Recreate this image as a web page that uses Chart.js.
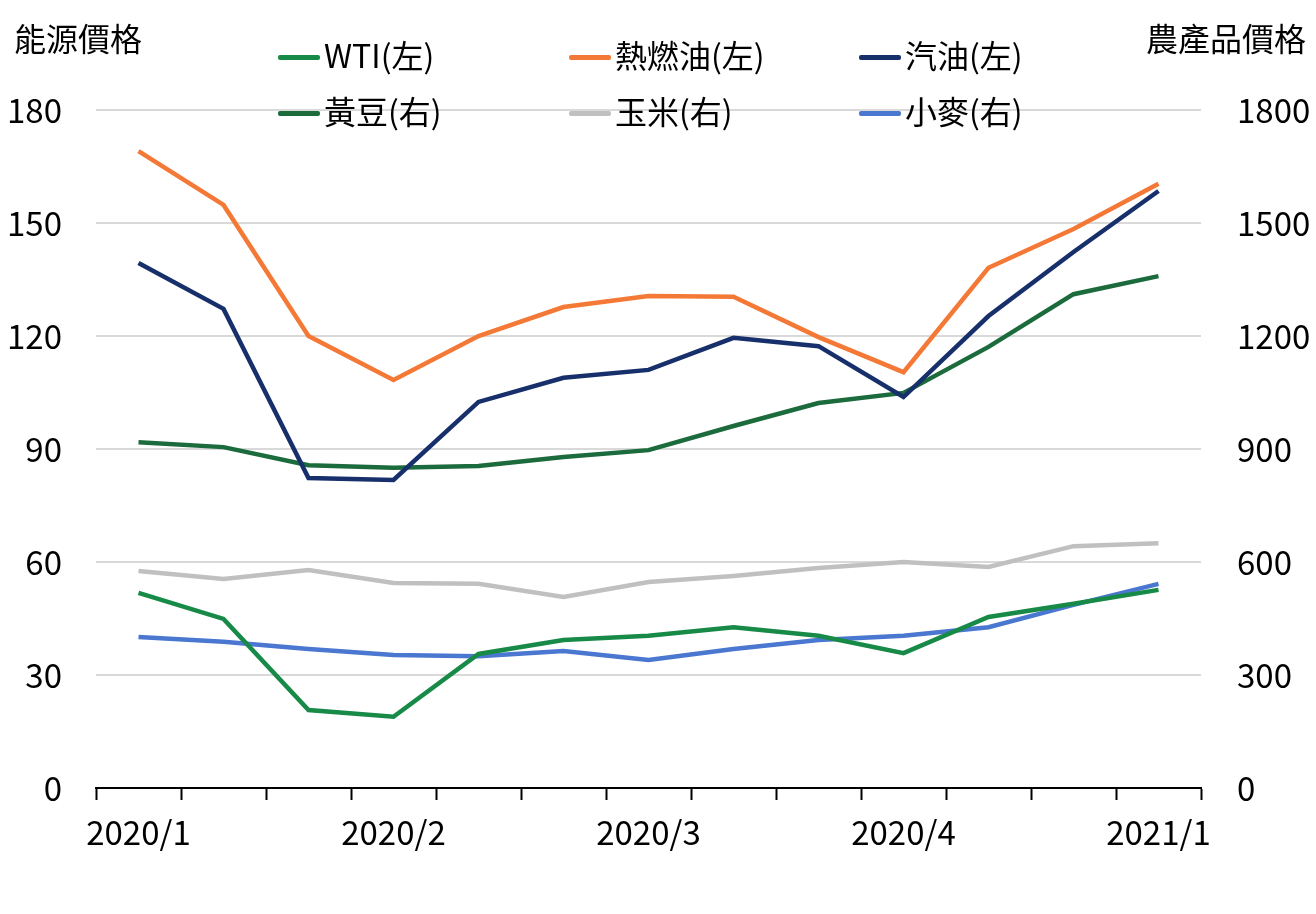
<!DOCTYPE html>
<html>
<head>
<meta charset="utf-8">
<script src="https://cdn.jsdelivr.net/npm/chart.js@4/dist/chart.umd.min.js"></script>
<style>
	body { margin: 0; background: #fff; }
	#wrap { position: relative; width: 1316px; height: 914px; font-family: "Noto Sans CJK TC", "Noto Sans", sans-serif; color: #000; }
	canvas { position: absolute; left: 0; top: 0; }
	.title { position: absolute; top: 17px; font-size: 32px; line-height: 40px; }
	.item { position: absolute; font-size: 32px; line-height: 40px; white-space: nowrap; }
	.item span { display: inline-block; width: 42px; height: 4.5px; border-radius: 2px; vertical-align: middle; margin-right: 4px; position: relative; top: -2px; }
</style>
</head>
<body>
<div id="wrap">
	<canvas id="chart" width="1316" height="914"></canvas>
	<div class="title" style="left:14px">能源價格</div>
	<div class="title" style="right:10px">農產品價格</div>
	<div id="legend"></div>
</div>
<script>
'use strict';

const labels = ['2020/1', '', '', '2020/2', '', '', '2020/3', '', '', '2020/4', '', '', '2021/1'];

const wti = [51.8, 44.9, 20.7, 18.9, 35.6, 39.3, 40.4, 42.7, 40.4, 35.8, 45.4, 48.9, 52.6];
const heatingOil = [169.1, 154.8, 120.0, 108.3, 120.0, 127.7, 130.6, 130.4, 119.7, 110.4, 138.1, 148.4, 160.4];
const gasoline = [139.4, 127.2, 82.3, 81.8, 102.5, 108.9, 111.0, 119.5, 117.3, 103.8, 125.3, 142.3, 158.5];
const soybean = [918, 905, 857, 850, 855, 879, 897, 961, 1022, 1049, 1171, 1311, 1359];
const corn = [576, 555, 579, 544, 542, 507, 547, 563, 584, 600, 587, 642, 650];
const wheat = [401, 388, 369, 353, 350, 364, 340, 369, 393, 404, 427, 486, 542];

const leftTicks = [0, 30, 60, 90, 120, 150, 180];
const rightTicks = [0, 300, 600, 900, 1200, 1500, 1800];

const series = [
	{ label: 'WTI(左)', data: wti, color: '#178a48', axis: 'yL' },
	{ label: '熱燃油(左)', data: heatingOil, color: '#f57936', axis: 'yL' },
	{ label: '汽油(左)', data: gasoline, color: '#172f6b', axis: 'yL' },
	{ label: '黃豆(右)', data: soybean, color: '#1c6b3c', axis: 'yR' },
	{ label: '玉米(右)', data: corn, color: '#c0c0c0', axis: 'yR' },
	{ label: '小麥(右)', data: wheat, color: '#4a77d0', axis: 'yR' }
];

// legend: 3 columns x 2 rows
const legendX = [278, 569, 859];
const legendY = [34, 90];
let legendHtml = '';
for (let i = 0; i < series.length; i++) {
	let x = legendX[i % 3];
	let y = legendY[Math.floor(i / 3)];
	legendHtml += `<div class="item" style="left:${x}px;top:${y}px"><span style="background:${series[i].color}"></span>${series[i].label}</div>`;
}
document.getElementById('legend').innerHTML = legendHtml;

const font = { family: '"Noto Sans CJK TC", "Noto Sans", sans-serif', size: 33 };

let ctx = document.getElementById('chart');
let chart = new Chart(ctx, {
	type: 'line',
	data: {
		labels: labels,
		datasets: series.map((s) => {
			return {
				label: s.label,
				data: s.data,
				borderColor: s.color,
				backgroundColor: s.color,
				borderWidth: 4.5,
				pointRadius: 0,
				tension: 0,
				yAxisID: s.axis
			};
		})
	},
	options: {
		responsive: false,
		animation: false,
		layout: { padding: { top: 110, left: 0, right: 0, bottom: 0 } },
		plugins: {
			legend: { display: false },
			tooltip: { enabled: false }
		},
		scales: {
			x: {
				offset: true,
				grid: {
					offset: true,
					drawOnChartArea: false,
					drawTicks: true,
					tickLength: 12,
					tickColor: '#000',
					tickWidth: 2
				},
				border: { color: '#000', width: 2 },
				ticks: {
					autoSkip: false,
					maxRotation: 0,
					padding: 13,
					color: '#000',
					font: font
				},
				afterFit: (axis) => { axis.height = 126; }
			},
			yL: {
				position: 'left',
				min: 0,
				max: 180,
				afterBuildTicks: (axis) => { axis.ticks = leftTicks.map((v) => ({ value: v })); },
				grid: { color: '#d9d9d9', lineWidth: 2, drawTicks: false },
				border: { display: false },
				ticks: { padding: 34, color: '#000', font: font, callback: (v) => String(v) },
				afterFit: (axis) => { axis.width = 96; }
			},
			yR: {
				position: 'right',
				min: 0,
				max: 1800,
				afterBuildTicks: (axis) => { axis.ticks = rightTicks.map((v) => ({ value: v })); },
				grid: { display: false, drawTicks: false },
				border: { display: false },
				ticks: { padding: 36, color: '#000', font: font, callback: (v) => String(v) },
				afterFit: (axis) => { axis.width = 115; }
			}
		}
	}
});
</script>
</body>
</html>
